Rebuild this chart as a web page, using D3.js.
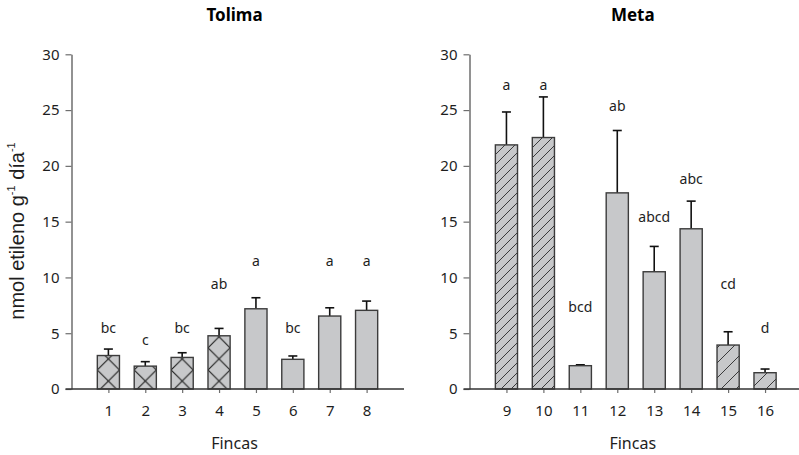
<!DOCTYPE html>
<html>
<head>
<meta charset="utf-8">
<script src="https://cdn.jsdelivr.net/npm/d3@7"></script>
<style>
  html, body { margin: 0; padding: 0; background: #fff; }
  svg { display: block; }
</style>
</head>
<body>
<svg id="chart" width="799" height="455"></svg>
<script>
// Ethylene production per farm (nmol g-1 día-1), mean and upper error
const tolimaFincas = ["1", "2", "3", "4", "5", "6", "7", "8"];
const tolimaMeans = [3.0, 2.05, 2.83, 4.77, 7.19, 2.66, 6.54, 7.05];
const tolimaErr = [0.58, 0.4, 0.42, 0.66, 0.99, 0.3, 0.74, 0.83];
const tolimaLetters = ["bc", "c", "bc", "ab", "a", "bc", "a", "a"];
const tolimaLetterAt = [5.0, 3.9, 5.0, 9.0, 11.0, 5.0, 11.0, 11.0];
const tolimaFill = ["cross", "cross", "cross", "cross", "plain", "plain", "plain", "plain"];

const metaFincas = ["9", "10", "11", "12", "13", "14", "15", "16"];
const metaMeans = [21.88, 22.54, 2.09, 17.58, 10.51, 14.36, 3.94, 1.46];
const metaErr = [2.95, 3.64, 0.08, 5.59, 2.27, 2.48, 1.19, 0.33];
const metaLetters = ["a", "a", "bcd", "ab", "abcd", "abc", "cd", "d"];
const metaLetterAt = [26.8, 26.8, 6.9, 24.9, 15.0, 18.4, 9.0, 5.0];
const metaFill = ["hatch", "hatch", "plain", "plain", "plain", "plain", "hatchWide", "hatchWide"];

const yTicks = [0, 5, 10, 15, 20, 25, 30];

const svg = d3.select("#chart");
const defs = svg.append("defs");

const BAR_FILL = "#c7c8ca";
const BAR_STROKE = "#3c3c3c";
const TEXT = "#1e1e1e";
const TICK_FONT = "'Noto Sans', 'Open Sans', sans-serif";

// diagonal "/" hatching
function hatchPattern(id, spacing) {
  const p = defs.append("pattern")
    .attr("id", id)
    .attr("patternUnits", "userSpaceOnUse")
    .attr("width", spacing).attr("height", spacing);
  p.append("rect").attr("width", spacing).attr("height", spacing).attr("fill", BAR_FILL);
  p.append("path")
    .attr("d", `M0,${spacing} L${spacing},0 M${-spacing / 2},${spacing / 2} L${spacing / 2},${-spacing / 2} M${spacing / 2},${spacing * 1.5} L${spacing * 1.5},${spacing / 2}`)
    .attr("stroke", "#2a2a2a").attr("stroke-width", 0.9);
}
hatchPattern("hatch", 10);
hatchPattern("hatchWide", 15);

function drawPanel(opts) {
  const { title, cats, means, errs, letters, letterAt, fills, x0, x1, id } = opts;
  const yTop = 54.3, yBase = 389;

  const x = d3.scalePoint().domain(cats).range([x0, x1]).padding(1);
  const y = d3.scaleLinear().domain([0, 30]).range([yBase, yTop]);
  const barW = x.step() * 0.6;

  const g = svg.append("g");

  // y axis
  const yAxis = g.append("g")
    .attr("transform", `translate(${x0},0)`)
    .call(d3.axisLeft(y).tickValues(yTicks).tickSize(6).tickPadding(6).tickSizeOuter(0));
  yAxis.select(".domain").attr("stroke", "#6e6e6e").attr("stroke-width", 1.5);
  yAxis.selectAll(".tick line").attr("stroke", "#6e6e6e").attr("stroke-width", 1.2);
  yAxis.selectAll(".tick text")
    .attr("font-family", TICK_FONT).attr("font-size", 15).attr("fill", TEXT);

  // cross-hatch patterns anchored to each bar
  cats.forEach((c, i) => {
    if (fills[i] !== "cross") return;
    const bx = x(c) - barW / 2;
    const s = barW;
    const p = defs.append("pattern")
      .attr("id", `${id}-cross-${i}`)
      .attr("patternUnits", "userSpaceOnUse")
      .attr("x", bx).attr("y", yBase - s * 0.86)
      .attr("width", s).attr("height", s);
    p.append("rect").attr("width", s).attr("height", s).attr("fill", BAR_FILL);
    p.append("path")
      .attr("d", `M0,0 L${s},${s} M${s},0 L0,${s}`)
      .attr("stroke", "#1a1a1a").attr("stroke-width", 1.1);
  });

  function fillFor(i) {
    if (fills[i] === "cross") return `url(#${id}-cross-${i})`;
    if (fills[i] === "hatch") return "url(#hatch)";
    if (fills[i] === "hatchWide") return "url(#hatchWide)";
    return BAR_FILL;
  }

  // error bars (upper only)
  const capW = 9;
  const eb = g.append("g");
  cats.forEach((c, i) => {
    const cx = x(c);
    const top = y(means[i] + errs[i]);
    eb.append("line")
      .attr("x1", cx).attr("x2", cx)
      .attr("y1", y(means[i])).attr("y2", top)
      .attr("stroke", "#111").attr("stroke-width", 1.6);
    eb.append("line")
      .attr("x1", cx - capW / 2).attr("x2", cx + capW / 2)
      .attr("y1", top).attr("y2", top)
      .attr("stroke", "#111").attr("stroke-width", 1.6);
  });

  // bars
  g.append("g").selectAll("rect")
    .data(cats)
    .join("rect")
    .attr("x", c => x(c) - barW / 2)
    .attr("y", (c, i) => y(means[i]))
    .attr("width", barW)
    .attr("height", (c, i) => y(0) - y(means[i]))
    .attr("fill", (c, i) => fillFor(i))
    .attr("stroke", BAR_STROKE)
    .attr("stroke-width", 1.4);

  // x axis
  const xAxis = g.append("g")
    .attr("transform", `translate(0,${yBase})`)
    .call(d3.axisBottom(x).tickSize(4).tickPadding(12).tickSizeOuter(0));
  xAxis.select(".domain").remove();
  xAxis.selectAll(".tick line").attr("stroke", "#6e6e6e").attr("stroke-width", 1.2);
  xAxis.selectAll(".tick text")
    .attr("font-family", TICK_FONT).attr("font-size", 15).attr("fill", TEXT);
  g.append("line")
    .attr("x1", x0 - 6).attr("x2", opts.baseEnd)
    .attr("y1", yBase).attr("y2", yBase)
    .attr("stroke", "#333").attr("stroke-width", 1.6);

  // significance letters
  g.append("g").selectAll("text")
    .data(cats)
    .join("text")
    .attr("x", c => x(c))
    .attr("y", (c, i) => y(letterAt[i]))
    .attr("text-anchor", "middle")
    .attr("font-family", TICK_FONT)
    .attr("font-size", 14)
    .attr("fill", TEXT)
    .text((c, i) => letters[i]);

  // panel title
  g.append("text")
    .attr("x", (x0 + x1) / 2 - 3)
    .attr("y", 21)
    .attr("text-anchor", "middle")
    .attr("font-family", TICK_FONT)
    .attr("font-weight", "bold")
    .attr("font-size", 17)
    .attr("fill", "#000")
    .text(title);

  // x axis title
  g.append("text")
    .attr("x", (x0 + x1) / 2 - 3)
    .attr("y", 449)
    .attr("text-anchor", "middle")
    .attr("font-family", TICK_FONT)
    .attr("font-size", 16)
    .attr("fill", TEXT)
    .text("Fincas");
}

drawPanel({
  id: "tol", title: "Tolima",
  cats: tolimaFincas, means: tolimaMeans, errs: tolimaErr,
  letters: tolimaLetters, letterAt: tolimaLetterAt, fills: tolimaFill,
  x0: 71.5, x1: 403.5, baseEnd: 404
});

drawPanel({
  id: "met", title: "Meta",
  cats: metaFincas, means: metaMeans, errs: metaErr,
  letters: metaLetters, letterAt: metaLetterAt, fills: metaFill,
  x0: 469.5, x1: 802, baseEnd: 799
});

// shared y axis title
const yt = svg.append("text")
  .attr("transform", "translate(24,231) rotate(-90)")
  .attr("text-anchor", "middle")
  .attr("font-family", "'Liberation Sans', Arial, sans-serif")
  .attr("font-size", 20)
  .attr("fill", TEXT);
yt.append("tspan").text("nmol etileno g");
yt.append("tspan").attr("font-size", 11).attr("dy", -9).text("-1");
yt.append("tspan").attr("dy", 9).text(" día");
yt.append("tspan").attr("font-size", 11).attr("dy", -9).text("-1");
</script>
</body>
</html>
